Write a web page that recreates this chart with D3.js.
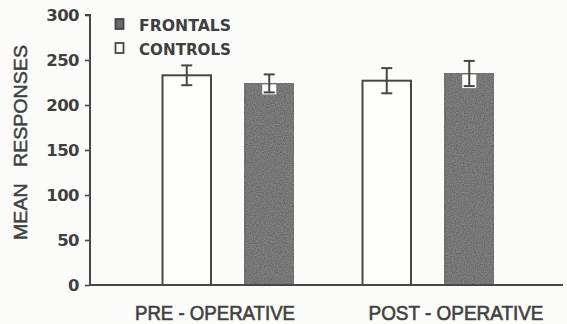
<!DOCTYPE html>
<html>
<head>
<meta charset="utf-8">
<script src="https://cdn.jsdelivr.net/npm/d3@7"></script>
<style>
  html, body { margin: 0; padding: 0; background: #fbfbf9; }
  svg { display: block; }
  text { font-family: "DejaVu Sans", "Liberation Sans", sans-serif; fill: #3f3f3f; }
</style>
</head>
<body>
<svg id="chart" width="567" height="324"></svg>
<script>
// Mean responses before and after surgery, by group
const phases = ["PRE - OPERATIVE", "POST - OPERATIVE"];
const groups = ["CONTROLS", "FRONTALS"];
const controlsMean = [233, 227];
const controlsErr = [11, 14];
const frontalsMean = [224, 235];
const frontalsErr = [10, 14];
const yTicks = [0, 50, 100, 150, 200, 250, 300];
const legendOrder = ["FRONTALS", "CONTROLS"];

const rows = [];
phases.forEach((p, i) => {
  rows.push({ phase: p, group: "CONTROLS", mean: controlsMean[i], err: controlsErr[i] });
  rows.push({ phase: p, group: "FRONTALS", mean: frontalsMean[i], err: frontalsErr[i] });
});

const ink = "#474747";
const barFill = "#646464";

const svg = d3.select("#chart");

// grain for the filled bars
const defs = svg.append("defs");
const f = defs.append("filter").attr("id", "grain").attr("x", 0).attr("y", 0).attr("width", 1).attr("height", 1);
f.append("feTurbulence").attr("type", "fractalNoise").attr("baseFrequency", 0.9).attr("numOctaves", 2).attr("seed", 3).attr("result", "n");
f.append("feColorMatrix").attr("in", "n").attr("type", "matrix")
  .attr("values", "0 0 0 0 0.45  0 0 0 0 0.45  0 0 0 0 0.45  0 0 0 0.55 -0.1").attr("result", "g");
f.append("feComposite").attr("in", "g").attr("in2", "SourceGraphic").attr("operator", "atop");

const y = d3.scaleLinear().domain([0, 300]).range([285, 15]);
const x0 = d3.scalePoint().domain(phases).range([228, 428]);
const x1 = d3.scaleBand().domain(groups).range([-65.5, 65.5]).paddingInner(0.412);

// bars
const bars = svg.append("g");
bars.selectAll("rect.bar").data(rows).join("rect")
  .attr("class", "bar")
  .attr("x", d => x0(d.phase) + x1(d.group))
  .attr("width", x1.bandwidth())
  .attr("y", d => y(d.mean))
  .attr("height", d => y(0) - y(d.mean))
  .attr("fill", d => d.group === "FRONTALS" ? barFill : "#fdfdfb")
  .attr("stroke", d => d.group === "FRONTALS" ? "#5c5c5c" : ink)
  .attr("stroke-width", 2)
  .attr("filter", d => d.group === "FRONTALS" ? "url(#grain)" : null);

// white window behind the lower half of error bars that sit inside filled bars
bars.selectAll("rect.win").data(rows.filter(d => d.group === "FRONTALS")).join("rect")
  .attr("class", "win")
  .attr("x", d => x0(d.phase) + x1(d.group) + x1.bandwidth() / 2 - 7)
  .attr("y", d => y(d.mean) + 1)
  .attr("width", 14)
  .attr("height", d => y(d.mean - d.err) - y(d.mean) + 1)
  .attr("fill", "#fdfdfb");

// error bars
const eb = svg.append("g").attr("stroke", ink).attr("stroke-width", 2).attr("fill", "none");
rows.forEach(d => {
  const cx = x0(d.phase) + x1(d.group) + x1.bandwidth() / 2;
  eb.append("line").attr("x1", cx).attr("x2", cx).attr("y1", y(d.mean + d.err)).attr("y2", y(d.mean - d.err));
  eb.append("line").attr("x1", cx - 5.5).attr("x2", cx + 5.5).attr("y1", y(d.mean + d.err)).attr("y2", y(d.mean + d.err));
  eb.append("line").attr("x1", cx - 5.5).attr("x2", cx + 5.5).attr("y1", y(d.mean - d.err)).attr("y2", y(d.mean - d.err));
});

// y axis
const yAxis = svg.append("g").attr("transform", "translate(90,0)")
  .call(d3.axisLeft(y).tickValues(yTicks).tickSize(5).tickPadding(6));
yAxis.select(".domain").attr("stroke", ink).attr("stroke-width", 2)
  .attr("d", `M-5,${y(300)}H0V${y(0)}`);
yAxis.selectAll(".tick line").attr("stroke", ink).attr("stroke-width", 1.6);
yAxis.selectAll(".tick text")
  .style("font-family", "'DejaVu Sans', sans-serif")
  .style("font-weight", "bold")
  .style("font-size", "16.5px")
  .style("letter-spacing", "-0.6px")
  .attr("fill", "#444");

// x baseline
svg.append("line").attr("x1", 89).attr("x2", 563).attr("y1", y(0)).attr("y2", y(0))
  .attr("stroke", ink).attr("stroke-width", 2);

// phase labels
const labelShift = [-13, 28];
svg.append("g").selectAll("text").data(phases).join("text")
  .attr("x", (d, i) => x0(d) + labelShift[i])
  .attr("y", 320)
  .attr("text-anchor", "middle")
  .attr("textLength", (d, i) => i === 0 ? 160 : 175)
  .attr("lengthAdjust", "spacingAndGlyphs")
  .style("font-family", "'Liberation Sans', sans-serif")
  .style("font-size", "19.5px")
  .attr("fill", "#444")
  .attr("stroke", "#444").attr("stroke-width", 0.6)
  .text(d => d);

// y title
svg.append("text")
  .attr("transform", `translate(27,${(45 + 240) / 2}) rotate(-90)`)
  .attr("text-anchor", "middle")
  .attr("textLength", 195)
  .attr("lengthAdjust", "spacingAndGlyphs")
  .style("font-family", "'Liberation Sans', sans-serif")
  .style("font-size", "18.5px")
  .style("white-space", "pre")
  .attr("fill", "#444")
  .attr("stroke", "#444").attr("stroke-width", 0.5)
  .text("MEAN   RESPONSES");

// legend
const lg = svg.append("g");
legendOrder.forEach((name, i) => {
  const ty = 19 + i * 24;
  lg.append("rect").attr("x", 115.5).attr("y", ty).attr("width", 8).attr("height", 10)
    .attr("fill", name === "FRONTALS" ? "#6a6a6a" : "#fdfdfb")
    .attr("stroke", name === "FRONTALS" ? "#444" : ink).attr("stroke-width", 1.8);
  lg.append("text").attr("x", 139).attr("y", ty + 12)
    .attr("textLength", 92).attr("lengthAdjust", "spacingAndGlyphs")
    .style("font-family", "'DejaVu Sans', sans-serif")
    .style("font-weight", "bold")
    .style("font-size", "16px")
    .attr("fill", "#444")
    .text(name);
});
</script>
</body>
</html>
